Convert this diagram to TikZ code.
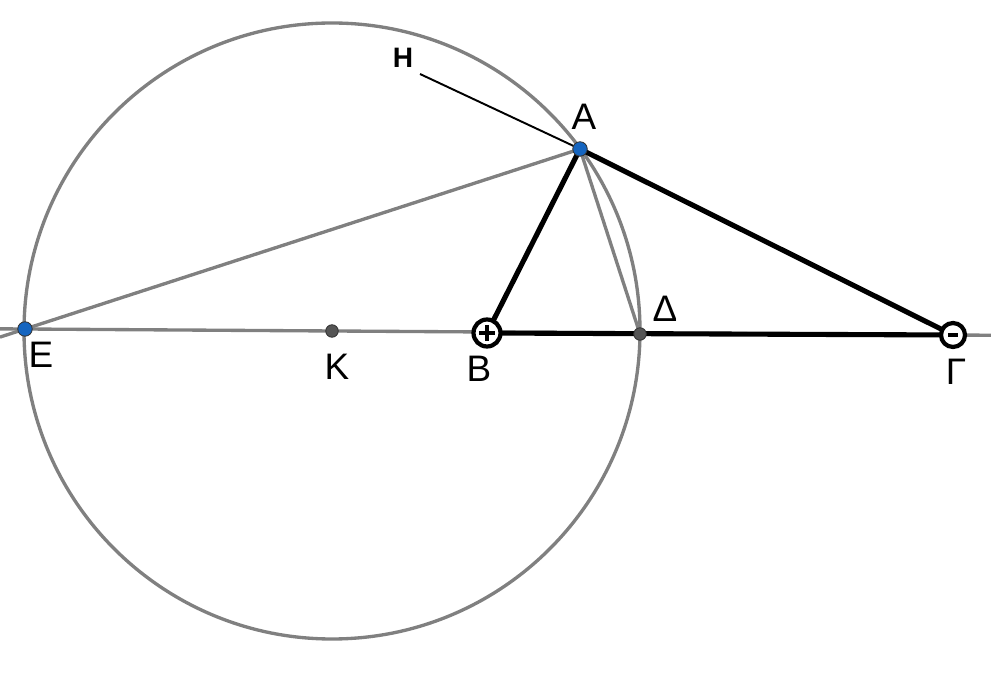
\documentclass[tikz,border=0pt]{standalone}
\usepackage{fontspec}
\setmainfont{Liberation Sans}
\usetikzlibrary{calc}
\definecolor{LineGray}{HTML}{808080}
\definecolor{PointBlue}{HTML}{1565C0}
\definecolor{PointGray}{HTML}{555555}
\tikzset{
  % Line styles
  grayline/.style={draw=LineGray, line width=1.9pt},
  sideline/.style={draw=black, line width=2.9pt},
  thinline/.style={draw=black, line width=1.1pt},
  % Point styles
  bluepoint/.style={circle, draw=black!80, fill=PointBlue, line width=0.5pt, inner sep=0pt, minimum size=0.29cm},
  graypoint/.style={circle, draw=black!80, fill=PointGray, line width=0.5pt, inner sep=0pt, minimum size=0.25cm},
  chargering/.style={circle, draw=black, fill=white, line width=2.4pt, inner sep=0pt},
  % Label styles
  ptlabel/.style={font=\fontsize{21}{25}\selectfont, inner sep=0pt},
  smalllabel/.style={font=\fontsize{16}{19}\selectfont\bfseries, inner sep=0pt}
}
\begin{document}
\begin{tikzpicture}[x=0.02cm, y=-0.02cm]
  \useasboundingbox (0,0) rectangle (991,675);

  % Points
  \coordinate (K) at (332,331);
  \coordinate (E) at (25,329);
  \coordinate (B) at (487,333);
  \coordinate (D) at (640,334);
  \coordinate (G) at (953,335);
  \coordinate (A) at (580,149);
  \coordinate (H) at (420,74);
  \coordinate (Lw) at ($(E)!-0.027!(G)$);
  \coordinate (Le) at ($(E)!1.041!(G)$);
  \coordinate (Ew) at ($(A)!1.045!(E)$);

  % Circle and construction lines
  \draw[grayline] (K) circle (308);
  \draw[grayline] (Lw) -- (Le);
  \draw[grayline] (A) -- (Ew);
  \draw[grayline] (A) -- (D);

  % Triangle
  \draw[thinline] (H) -- (A);
  \draw[sideline] (A) -- (B);
  \draw[sideline] (A) -- (G);
  \draw[sideline] (B) -- (G);

  % Charges
  \node[chargering, minimum size=0.54cm] (Bq) at (B) {};
  \draw[line width=2.4pt] ($(B)+(-8,0)$) -- ($(B)+(8,0)$);
  \draw[line width=2.4pt] ($(B)+(0,-8)$) -- ($(B)+(0,8)$);
  \node[chargering, minimum size=0.48cm] (Gq) at (G) {};
  \draw[line width=2.4pt] ($(G)+(-5,0)$) -- ($(G)+(5,0)$);

  % Dots
  \node[graypoint] (Kp) at (K) {};
  \node[graypoint] (Dp) at (D) {};
  \node[bluepoint] (Ep) at (E) {};
  \node[bluepoint] (Ap) at (A) {};

  % Labels
  \foreach \name/\pos/\txt in {la/{(584,117)}/Α, le/{(41,355)}/Ε, lk/{(337,367)}/Κ, lb/{(479,369)}/Β, ld/{(665,309)}/Δ, lg/{(956,372)}/Γ} {
    \node[ptlabel] (\name) at \pos {\txt};
  }
  \node[smalllabel] (lh) at (403,58) {Η};
\end{tikzpicture}
\end{document}
